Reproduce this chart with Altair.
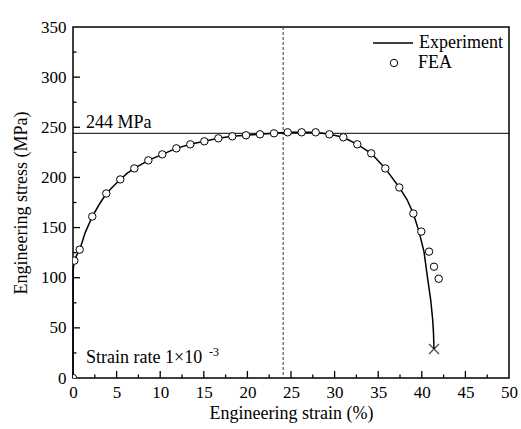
import altair as alt
import pandas as pd

FONT = "Liberation Serif"

# Experimental engineering stress-strain curve (strain in %, stress in MPa)
exp_strain = [0.0, 0.02, 0.15, 0.4, 0.77, 1.4, 2.21, 3.0, 3.82, 4.6, 5.42, 6.2, 7.03,
              8.64, 10.24, 11.85, 13.45, 15.06, 16.67, 18.27, 19.84, 21.44, 23.05,
              24.62, 26.22, 27.83, 29.4, 31.0, 32.6, 34.2, 35.81, 37.42, 38.3, 39.03,
              39.68, 40.25, 40.67, 41.02, 41.25, 41.34, 41.4]
exp_stress = [0, 108, 117, 122, 128, 145, 161, 173, 184, 191, 198, 204, 209,
              217, 223, 229, 233, 236, 239, 241, 242, 243, 244,
              245, 245, 245, 243, 240, 233, 224, 209, 190, 178, 164,
              146, 126, 99, 78, 58, 45, 29]

# Finite element results
fea_strain = [0.0, 0.15, 0.77, 2.21, 3.82, 5.42, 7.03, 8.64, 10.24, 11.85, 13.45,
              15.06, 16.67, 18.27, 19.84, 21.44, 23.05, 24.62, 26.22, 27.83, 29.4,
              31.0, 32.6, 34.2, 35.81, 37.42, 39.03, 39.94, 40.83, 41.40, 41.94]
fea_stress = [0, 117, 128, 161, 184, 198, 209, 217, 223, 229, 233,
              236, 239, 241, 242, 243, 244, 245, 245, 245, 243,
              240, 233, 224, 209, 190, 164, 146, 126, 111, 99]

# Fracture point
fracture_strain = [41.4]
fracture_stress = [29]

# Reference levels
uts_stress = [244]
uts_label = ["244 MPa"]
uniform_strain = [24.1]

x_ticks = list(range(0, 51, 5))
y_ticks = list(range(0, 351, 50))
x_minor = [v + 2.5 for v in range(0, 50, 5)]
y_minor = [v + 25 for v in range(0, 350, 50)]

W, H = 436, 351
MAJOR, MINOR = 7, 3.5

exp_df = pd.DataFrame({"strain": exp_strain, "stress": exp_stress, "series": "Experiment"})
fea_df = pd.DataFrame({"strain": fea_strain, "stress": fea_stress, "series": "FEA"})
frac_df = pd.DataFrame({"strain": fracture_strain, "stress": fracture_stress})
uts_df = pd.DataFrame({"stress": uts_stress, "label": uts_label, "strain": [1.5]})
uni_df = pd.DataFrame({"strain": uniform_strain})
rate_df = pd.DataFrame({"strain": [1.5], "stress": [15], "label": ["Strain rate 1×10"]})
pow_df = pd.DataFrame({"strain": [15.6], "stress": [22], "label": ["-3"]})

x_scale = alt.Scale(domain=[0, 50], nice=False, zero=False)
y_scale = alt.Scale(domain=[0, 350], nice=False, zero=False)

x_axis = alt.Axis(values=x_ticks, ticks=False, domain=False, grid=False,
                  labelFlush=False, labelPadding=6, labelFont=FONT, labelFontSize=17,
                  labelColor="black", title="Engineering strain (%)", titleFont=FONT,
                  titleFontSize=18, titleFontWeight="normal", titleColor="black",
                  titlePadding=4)
y_axis = alt.Axis(values=y_ticks, ticks=False, domain=False, grid=False,
                  labelFlush=False, labelPadding=7, labelFont=FONT, labelFontSize=17,
                  labelColor="black", title="Engineering stress (MPa)", titleFont=FONT,
                  titleFontSize=18, titleFontWeight="normal", titleColor="black",
                  titlePadding=10)

X = alt.X("strain:Q", scale=x_scale, axis=x_axis)
Y = alt.Y("stress:Q", scale=y_scale, axis=y_axis)

line = alt.Chart(exp_df).mark_line(strokeWidth=1.5).encode(
    x=X, y=Y, order=alt.Order("strain:Q"),
    color=alt.Color("series:N", scale=alt.Scale(domain=["Experiment"], range=["black"]),
                    legend=alt.Legend(title=None, orient="none", legendX=299, legendY=-5,
                                      symbolType="stroke", symbolSize=1600,
                                      symbolStrokeWidth=1.5, symbolStrokeColor="black",
                                      labelFont=FONT, labelFontSize=18, labelColor="black",
                                      labelOffset=5, padding=0)),
)

points = alt.Chart(fea_df).mark_point(filled=False, fill="white", strokeWidth=1, size=55,
                                      opacity=1, clip=True).encode(
    x=X, y=Y,
    stroke=alt.Stroke("series:N", scale=alt.Scale(domain=["FEA"], range=["black"]),
                      legend=alt.Legend(title=None, orient="none", legendX=312, legendY=27,
                                        symbolType="circle", symbolSize=55,
                                        symbolFillColor="white", symbolStrokeWidth=1,
                                        labelFont=FONT, labelFontSize=18,
                                        labelColor="black", labelOffset=15, padding=0)),
)

fracture = alt.Chart(frac_df).mark_point(shape="M-1,-1L1,1M1,-1L-1,1", size=100,
                                         stroke="black", strokeWidth=1.3,
                                         filled=False).encode(x=X, y=Y)

uts_line = alt.Chart(uts_df).mark_rule(color="black", strokeWidth=1).encode(y=Y)
uts_text = alt.Chart(uts_df).mark_text(align="left", baseline="alphabetic", dy=-5,
                                       font=FONT, fontSize=18, color="black").encode(
    x=X, y=Y, text="label:N")

uni_line = alt.Chart(uni_df).mark_rule(color="#333333", strokeWidth=1,
                                       strokeDash=[3, 2]).encode(x=X)

rate_text = alt.Chart(rate_df).mark_text(align="left", baseline="alphabetic", font=FONT,
                                         fontSize=18, color="black").encode(
    x=X, y=Y, text="label:N")
rate_pow = alt.Chart(pow_df).mark_text(align="left", baseline="alphabetic", font=FONT,
                                       fontSize=12, color="black").encode(
    x=X, y=Y, text="label:N")


# Inward-pointing major and minor ticks along the bottom and left edges
def x_tick_layer(values, length):
    df = pd.DataFrame({"strain": values})
    return alt.Chart(df).mark_rule(color="black", strokeWidth=1.3).encode(
        x=X, y=alt.value(H), y2=alt.value(H - length))


def y_tick_layer(values, length):
    df = pd.DataFrame({"stress": values})
    return alt.Chart(df).mark_rule(color="black", strokeWidth=1.3).encode(
        y=Y, x=alt.value(0), x2=alt.value(length))


ticks = [
    x_tick_layer(x_ticks[1:-1], MAJOR), x_tick_layer(x_minor, MINOR),
    y_tick_layer(y_ticks[1:-1], MAJOR), y_tick_layer(y_minor, MINOR),
]

chart = alt.layer(
    uni_line, uts_line, *ticks, line, points, fracture,
    uts_text, rate_text, rate_pow,
).resolve_scale(color="independent", stroke="independent").properties(
    width=W, height=H,
    background="white",
    autosize=alt.AutoSizeParams(type="none"),
    padding={"left": 73, "top": 27, "right": 12, "bottom": 51},
).configure_axis(labelFont=FONT, titleFont=FONT).configure_legend(
    labelFont=FONT
).configure_view(stroke="black", strokeWidth=1.5)

chart.save("out.html", embed_options={"renderer": "svg", "actions": False})
